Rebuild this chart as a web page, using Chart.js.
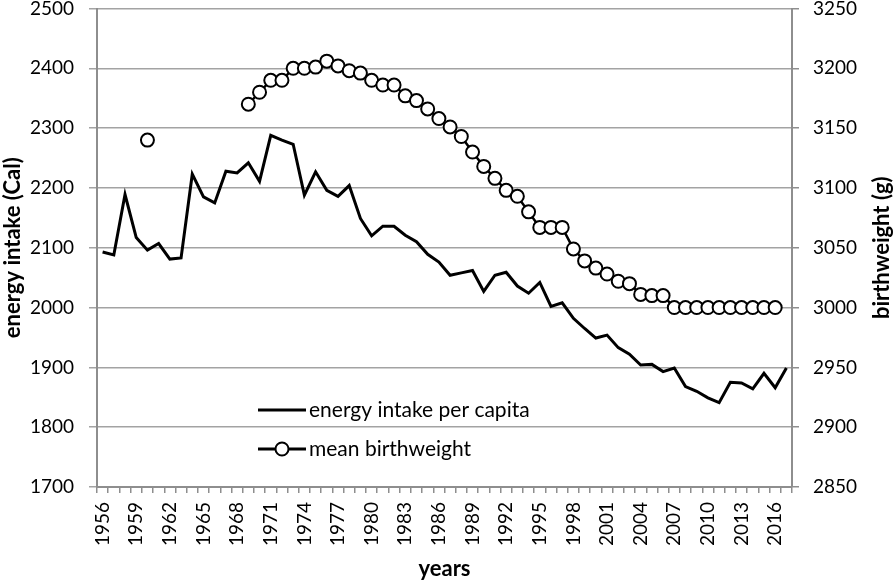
<!DOCTYPE html>
<html>
<head>
<meta charset="utf-8">
<script src="https://cdn.jsdelivr.net/npm/chart.js@4.4.1/dist/chart.umd.min.js"></script>
<style>
  html, body { margin: 0; padding: 0; background: #fff; }
  #wrap { width: 894px; height: 582px; }
</style>
</head>
<body>
<div id="wrap"><canvas id="chart" width="894" height="582"></canvas></div>
<script>
// years on the category axis
const years = [];
for (let y = 1956; y <= 2017; y++) years.push(String(y));

// energy intake per capita (Cal), left axis
const energyIntake = [
  2093, 2088, 2189, 2117, 2096, 2107, 2081, 2083, 2223, 2185,
  2175, 2228, 2225, 2242, 2211, 2288, 2280, 2273, 2188, 2227,
  2196, 2186, 2204, 2149, 2120, 2136, 2136, 2121, 2110, 2089,
  2076, 2054, 2058, 2062, 2027, 2054, 2059, 2036, 2024, 2042,
  2002, 2008, 1982, 1965, 1949, 1954, 1933, 1922, 1904, 1905,
  1893, 1899, 1868, 1860, 1849, 1841, 1875, 1874, 1864, 1890,
  1866, 1899
];

// mean birthweight (g), right axis; null = no data
const birthweight = [
  null, null, null, null, 3140, null, null, null, null, null,
  null, null, null, 3170, 3180, 3190, 3190, 3200, 3200, 3201,
  3206, 3202, 3198, 3196, 3190, 3186, 3186, 3177, 3173, 3166,
  3158, 3151, 3143, 3130, 3118, 3108, 3098, 3093, 3080, 3067,
  3067, 3067, 3049, 3039, 3033, 3028, 3022, 3020, 3011, 3010,
  3010, 3000, 3000, 3000, 3000, 3000, 3000, 3000, 3000, 3000,
  3000, null
];

const leftTicks = { min: 1700, max: 2500, step: 100 };
const rightTicks = { min: 2850, max: 3250, step: 50 };

const FONT = 'Lato, "Open Sans", sans-serif';
const GRID = '#a3a3a3';
const AXIS = '#8e8e8e';

// titles + legend drawn by hand (Excel style placement)
const decorations = {
  id: 'decorations',
  afterDraw(chart) {
    const ctx = chart.ctx;
    const area = chart.chartArea;
    ctx.save();
    ctx.fillStyle = '#000';
    ctx.font = 'bold 22px ' + FONT;
    ctx.textAlign = 'center';
    ctx.textBaseline = 'middle';
    const midY = (area.top + area.bottom) / 2;

    ctx.save();
    ctx.translate(13, midY);
    ctx.rotate(-Math.PI / 2);
    ctx.fillText('energy intake (Cal)', 0, 0);
    ctx.restore();

    ctx.save();
    ctx.translate(882, midY);
    ctx.rotate(-Math.PI / 2);
    ctx.fillText('birthweight (g)', 0, 0);
    ctx.restore();

    ctx.fillText('years', (area.left + area.right) / 2, 569);

    // legend
    ctx.font = '21px ' + FONT;
    ctx.textAlign = 'left';
    ctx.strokeStyle = '#000';
    ctx.lineWidth = 3;
    ctx.beginPath(); ctx.moveTo(258, 410); ctx.lineTo(306, 410); ctx.stroke();
    ctx.fillText('energy intake per capita', 309, 410);

    ctx.beginPath(); ctx.moveTo(258, 449); ctx.lineTo(306, 449); ctx.stroke();
    ctx.beginPath(); ctx.arc(282, 449, 6.5, 0, Math.PI * 2);
    ctx.fillStyle = '#fff'; ctx.fill();
    ctx.lineWidth = 2; ctx.stroke();
    ctx.fillStyle = '#000';
    ctx.fillText('mean birthweight', 309, 449);
    ctx.restore();
  }
};

function noPad(scale) {
  scale.paddingTop = 0; scale.paddingBottom = 0;
  scale.paddingLeft = 0; scale.paddingRight = 0;
}

new Chart(document.getElementById('chart'), {
  type: 'line',
  data: {
    labels: years,
    datasets: [
      {
        label: 'mean birthweight',
        data: birthweight,
        yAxisID: 'y1',
        borderColor: '#000',
        borderWidth: 2.5,
        pointRadius: 6.5,
        pointBackgroundColor: '#fff',
        pointBorderColor: '#000',
        pointBorderWidth: 2,
        spanGaps: false,
        tension: 0
      },
      {
        label: 'energy intake per capita',
        data: energyIntake,
        yAxisID: 'y',
        borderColor: '#000',
        borderWidth: 3,
        pointRadius: 0,
        tension: 0
      }
    ]
  },
  options: {
    responsive: false,
    animation: false,
    layout: { padding: { top: 8, left: 0, right: 0, bottom: 0 } },
    plugins: { legend: { display: false }, tooltip: { enabled: false } },
    scales: {
      x: {
        offset: true,
        grid: { offset: true, drawOnChartArea: false, color: AXIS, lineWidth: 1.5, tickLength: 6 },
        border: { color: AXIS, width: 2 },
        ticks: {
          autoSkip: false, maxRotation: 90, minRotation: 90, padding: 9,
          color: '#000', font: { family: FONT, size: 19 },
          callback: (v, i) => (i % 3 === 0 ? years[i] : '')
        },
        afterFit(scale) { scale.height = 95; noPad(scale); }
      },
      y: {
        position: 'left',
        min: leftTicks.min, max: leftTicks.max,
        grid: { color: GRID, lineWidth: 1.5, tickLength: 8 },
        border: { color: AXIS, width: 2 },
        ticks: {
          stepSize: leftTicks.step, padding: 15, color: '#000', font: { family: FONT, size: 19 },
          callback: v => String(v)
        },
        afterFit(scale) { scale.width = 97; noPad(scale); }
      },
      y1: {
        position: 'right',
        min: rightTicks.min, max: rightTicks.max,
        grid: { drawOnChartArea: false, color: AXIS, lineWidth: 1.5, tickLength: 7 },
        border: { color: AXIS, width: 2 },
        ticks: {
          stepSize: rightTicks.step, padding: 14, color: '#000', font: { family: FONT, size: 19 },
          callback: v => String(v)
        },
        afterFit(scale) { scale.width = 102; noPad(scale); }
      }
    }
  },
  plugins: [decorations]
});
</script>
</body>
</html>
